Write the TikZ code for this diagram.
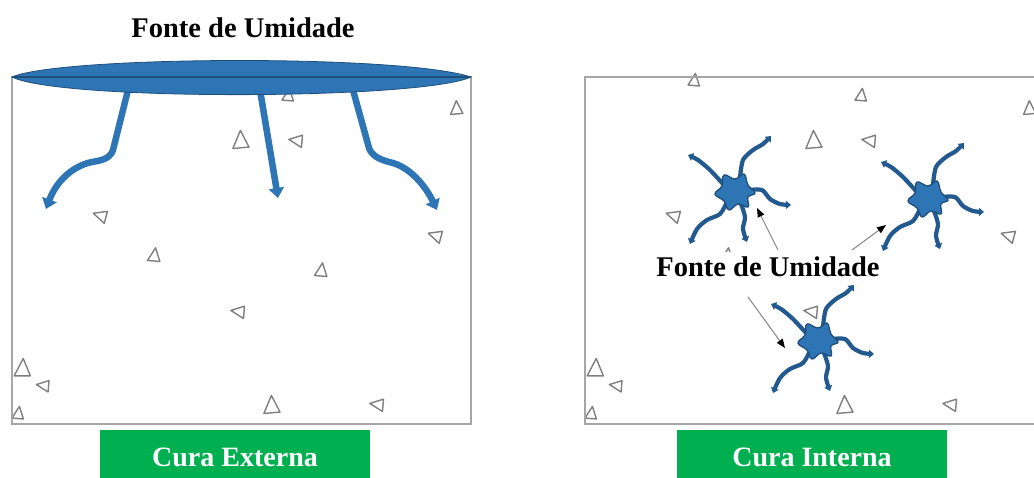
\documentclass[tikz,border=0pt]{standalone}
\usepackage{fontspec}
\setmainfont{Liberation Serif}
\usetikzlibrary{arrows.meta}
\definecolor{waterblue}{HTML}{2E75B6}
\definecolor{waterdark}{HTML}{1F4E79}
\definecolor{tendrilblue}{HTML}{22598F}
\definecolor{grainline}{HTML}{7F7F7F}
\definecolor{frameline}{HTML}{A6A6A6}
\definecolor{labelgreen}{HTML}{00B050}
\definecolor{pointer}{HTML}{8C8C8C}

\tikzset{
  grain/.pic={\draw[grainline, line width=1.4pt, line join=round]
      (-0.5,0.42) -- (0.45,0.5) -- (0.12,-0.55) -- cycle;},
  frame/.style={draw=frameline, line width=1.8pt},
  heading/.style={font=\fontsize{28.5}{30}\selectfont\bfseries, text=black, inner sep=2pt},
  caption/.style={fill=labelgreen, text=white, font=\fontsize{28}{30}\selectfont\bfseries,
      minimum width=270pt, minimum height=54pt, inner sep=0pt},
  channel/.style={draw=waterblue, line width=6.5pt, -{Triangle[length=10pt,width=15pt]}},
  tendril/.style={draw=tendrilblue, line width=4.2pt, line cap=round, -{Triangle[length=5pt,width=8pt]}},
  pointerarrow/.style={draw=pointer, line width=1.1pt, -{Triangle[length=9pt,width=7pt,color=black]}},
  wetspot/.pic={
    \draw[tendril] plot[smooth] coordinates {(5,-14) (8,-32) (18,-42) (28,-48) (36,-56)};
    \draw[tendril] plot[smooth] coordinates {(-12,-8) (-25,-22) (-37,-32) (-47,-37)};
    \draw[tendril] plot[smooth] coordinates {(14,-2) (27,-2) (35,7) (45,12) (56,13)};
    \draw[tendril] plot[smooth] coordinates {(-8,10) (-15,22) (-28,28) (-38,37) (-45,52)};
    \draw[tendril] plot[smooth] coordinates {(6,12) (10,25) (8,37) (12,50)};
    \draw[fill=waterblue, draw=waterdark, line width=1.3pt]
      plot[smooth cycle, tension=0.7] coordinates {(20,1) (13,-7) (9,-18) (0,-13) (-11,-17)
        (-13,-6) (-20,2) (-11,9) (-6,18) (3,12) (13,15) (13,5)};
  },
  % the same grain layout is used in both specimens
  grains/.pic={
    \pic[rotate=0,  scale=12] at (121,80)  {grain};
    \pic[rotate=0,  scale=12] at (288,95)  {grain};
    \pic[rotate=10, scale=13] at (456,108) {grain};
    \pic[rotate=10, scale=17] at (240,140) {grain};
    \pic[rotate=90, scale=13] at (296,141) {grain};
    \pic[rotate=80, scale=13] at (100,216) {grain};
    \pic[rotate=0,  scale=13] at (154,255) {grain};
    \pic[rotate=0,  scale=13] at (321,270) {grain};
    \pic[rotate=90, scale=13] at (238,312) {grain};
    \pic[rotate=80, scale=13] at (435,236) {grain};
    \pic[rotate=5,  scale=17] at (22,368)  {grain};
    \pic[rotate=90, scale=12] at (43,386)  {grain};
    \pic[rotate=0,  scale=12] at (18,413)  {grain};
    \pic[rotate=10, scale=17] at (271,405) {grain};
    \pic[rotate=90, scale=13] at (377,405) {grain};
  }
}

\begin{document}
\begin{tikzpicture}[x=1pt, y=-1pt]
\useasboundingbox (0,0) rectangle (1034,477);
\clip (0,0) rectangle (1034,477);

% ---------- external curing ----------
\pic at (0,0) {grains};
\draw[frame] (12,77) rectangle (471,424);

\coordinate (l1s) at (128,90);
\coordinate (l1e) at (46,209);
\coordinate (l2s) at (260,90);
\coordinate (l2e) at (278,198);
\coordinate (l3s) at (353,90);
\coordinate (l3e) at (437,210);
\draw[channel] (l1s) -- (113,150) .. controls (110,158) and (104,160) .. (92,162)
   .. controls (72,166) and (56,182) .. (l1e);
\draw[channel] (l2s) -- (l2e);
\draw[channel] (l3s) -- (369,148) .. controls (372,156) and (380,160) .. (393,163)
   .. controls (410,168) and (425,185) .. (l3e);

% surface water layer
\draw[fill=waterblue, draw=waterdark, line width=0.8pt]
  (12,77) .. controls (60,56) and (400,54) .. (471,77)
          .. controls (420,100) and (60,101) .. cycle;
\draw[waterdark, line width=1.3pt] (12,77) -- (471,77);

\node[heading] (topsrc) at (243,28) {Fonte de Umidade};
\node[caption] (ext) at (235,457) {Cura Externa};

% ---------- internal curing ----------
\pic at (573,0) {grains};
\draw[frame] (585,77) rectangle (1044,424);

\pic at (735,192) {wetspot};
\pic at (928,199) {wetspot};
\pic at (818,341) {wetspot};

\node[heading, fill=white, inner xsep=26pt, inner ysep=5pt] (insrc) at (768,267) {Fonte de Umidade};

\coordinate (a1s) at (778,250);
\coordinate (a1e) at (757,208);
\coordinate (a2s) at (852,250);
\coordinate (a2e) at (886,225);
\coordinate (a3s) at (748,297);
\coordinate (a3e) at (785,348);
\draw[pointerarrow] (a1s) -- (a1e);
\draw[pointerarrow] (a2s) -- (a2e);
\draw[pointerarrow] (a3s) -- (a3e);

\node[caption] (int) at (812,457) {Cura Interna};
\end{tikzpicture}
\end{document}
